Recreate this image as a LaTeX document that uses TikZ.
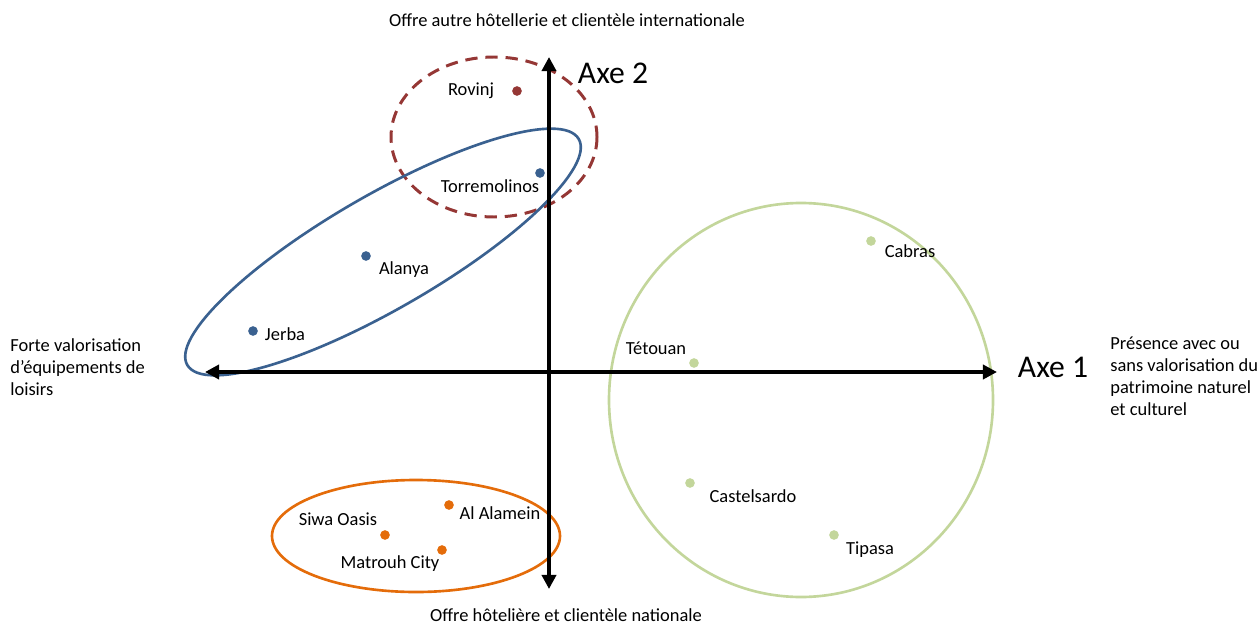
\documentclass[tikz,border=0pt]{standalone}
\usepackage{fontspec}
\setmainfont{Carlito}
\usetikzlibrary{arrows.meta}
\definecolor{cred}{HTML}{953735}
\definecolor{cblue}{HTML}{3A6190}
\definecolor{corange}{HTML}{E46C0A}
\definecolor{cgreen}{HTML}{C3D69B}
\begin{document}
\begin{tikzpicture}[x=0.02cm,y=-0.02cm,
  lbl/.style={font=\fontsize{10.5}{12.5}\selectfont, inner sep=0pt},
  side/.style={font=\fontsize{10.5}{12.5}\selectfont, inner sep=0pt, align=left},
  axelbl/.style={font=\fontsize{18}{20}\selectfont, inner sep=0pt},
  axis/.style={line width=2.3pt, -{Triangle[width=8pt,length=8pt]}},
  dotb/.style={circle, fill=cblue, inner sep=0pt, minimum size=5.5pt},
  dotr/.style={circle, fill=cred, inner sep=0pt, minimum size=5.5pt},
  doto/.style={circle, fill=corange, inner sep=0pt, minimum size=5.5pt},
  dotg/.style={circle, fill=cgreen, inner sep=0pt, minimum size=5.5pt},
]
\useasboundingbox (0,0) rectangle (1260,625);
% groups
\draw[cred, line width=1.7pt, dash pattern=on 7pt off 4.5pt] (494,137) ellipse [x radius=103, y radius=80];
\draw[cblue, line width=1.5pt] (383,252) ellipse [x radius=226, y radius=57, rotate=30];
\draw[corange, line width=1.5pt] (416,536) ellipse [x radius=144, y radius=56];
\draw[cgreen, line width=1.5pt] (801,400) ellipse [x radius=192, y radius=197];
% axes
\coordinate (O) at (549,372);
\coordinate (R) at (997,372);
\coordinate (L) at (205,372);
\coordinate (T) at (549,57);
\coordinate (B) at (549,589);
\draw[axis] (O) -- (R);
\draw[axis] (O) -- (L);
\draw[axis] (O) -- (T);
\draw[axis] (O) -- (B);
\node[axelbl] (ax2) at (613,73) {Axe 2};
\node[axelbl] (ax1) at (1053,367) {Axe 1};
% axis texts
\node[lbl] (top) at (567,20) {Offre autre hôtellerie et clientèle internationale};
\node[lbl] (bot) at (566,615) {Offre hôtelière et clientèle nationale};
\node[side, anchor=north west] (left) at (10,338) {Forte valorisation\\d’équipements de\\loisirs};
\node[side, anchor=north west] (right) at (1110,337) {Présence avec ou\\sans valorisation du\\patrimoine naturel\\et culturel};
% points
\node[dotr] (rov) at (517,91) {};
\node[lbl] (rovl) at (471,91) {Rovinj};
\node[dotb] (tor) at (540,173) {};
\node[lbl] (torl) at (490,186) {Torremolinos};
\node[dotb] (ala) at (366,256) {};
\node[lbl] (alal) at (404,270) {Alanya};
\node[dotb] (jer) at (253,331) {};
\node[lbl] (jerl) at (285,334) {Jerba};
\node[doto] (alm) at (449,505) {};
\node[lbl] (alml) at (500,513) {Al Alamein};
\node[doto] (siw) at (385,535) {};
\node[lbl] (siwl) at (338,519) {Siwa Oasis};
\node[doto] (mat) at (442,550) {};
\node[lbl] (matl) at (390,564) {Matrouh City};
\node[dotg] (tet) at (694,363) {};
\node[lbl] (tetl) at (656,348) {Tétouan};
\node[dotg] (cab) at (871,241) {};
\node[lbl] (cabl) at (910,251) {Cabras};
\node[dotg] (cas) at (690,483) {};
\node[lbl] (casl) at (753,496) {Castelsardo};
\node[dotg] (tip) at (834,535) {};
\node[lbl] (tipl) at (870,550) {Tipasa};
\end{tikzpicture}
\end{document}
